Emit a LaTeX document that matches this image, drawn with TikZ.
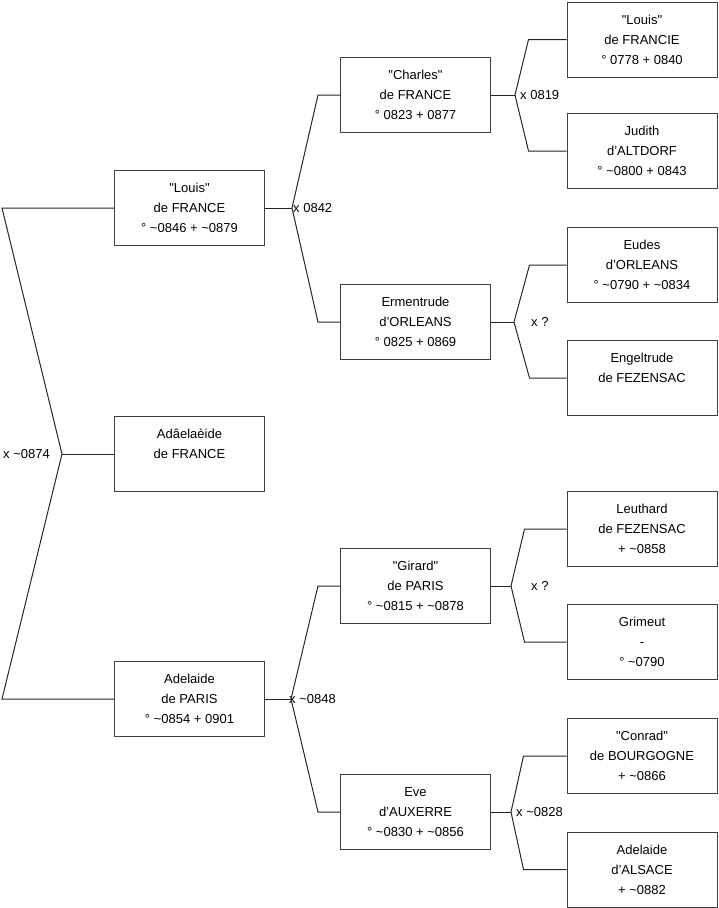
\documentclass[tikz,border=0pt]{standalone}
\usepackage{fontspec}
\setmainfont{Liberation Sans}
\usetikzlibrary{positioning}
\newcommand{\abt}{\textasciitilde}
\newcommand{\qq}[1]{\textquotedbl#1\textquotedbl}

\begin{document}
\begin{tikzpicture}[x=1pt,y=-1pt,
person/.style={draw=black!75,line width=1pt,minimum width=150pt,
minimum height=75pt,align=center,inner sep=0pt,
font=\fontsize{13}{20}\selectfont},
wed/.style={font=\fontsize{13}{15}\selectfont,inner sep=0pt,anchor=west},
link/.style={line width=1pt,black!85}]
\useasboundingbox (0,0) rectangle (719,908);
% generation 1
\node[person] (louis) at (189.5,208) {\qq{Louis}\\de FRANCE\\° \abt0846 + \abt0879};
\node[person] (adaela) at (189.5,454) {Adâelaèide\\de FRANCE\\\mbox{}};
\node[person] (adparis) at (189.5,699) {Adelaide\\de PARIS\\° \abt0854 + 0901};
% generation 2
\node[person] (charles) at (415.5,95) {\qq{Charles}\\de FRANCE\\° 0823 + 0877};
\node[person] (ermen) at (415.5,322) {Ermentrude\\d'ORLEANS\\° 0825 + 0869};
\node[person] (girard) at (415.5,586) {\qq{Girard}\\de PARIS\\° \abt0815 + \abt0878};
\node[person] (eve) at (415.5,812) {Eve\\d'AUXERRE\\° \abt0830 + \abt0856};
% generation 3
\node[person] (louisf) at (642,39.5) {\qq{Louis}\\de FRANCIE\\° 0778 + 0840};
\node[person] (judith) at (642,151) {Judith\\d'ALTDORF\\° \abt0800 + 0843};
\node[person] (eudes) at (642,265) {Eudes\\d'ORLEANS\\° \abt0790 + \abt0834};
\node[person] (engel) at (642,378) {Engeltrude\\de FEZENSAC\\\mbox{}};
\node[person] (leuth) at (642,529) {Leuthard\\de FEZENSAC\\+ \abt0858};
\node[person] (grim) at (642,642) {Grimeut\\-\\° \abt0790};
\node[person] (conrad) at (642,756) {\qq{Conrad}\\de BOURGOGNE\\+ \abt0866};
\node[person] (adals) at (642,869.5) {Adelaide\\d'ALSACE\\+ \abt0882};
% marriage points
\coordinate (w0) at (62,454);
\coordinate (w1) at (292,208);
\coordinate (w2) at (291,699);
\coordinate (w3) at (515,95);
\coordinate (w4) at (514,322);
\coordinate (w5) at (511,586);
\coordinate (w6) at (511,812);
\node[wed,xshift=-59pt] (x0) at (w0) {x \abt0874};
\node[wed,xshift=1pt] (x1) at (w1) {x 0842};
\node[wed,xshift=-2pt] (x2) at (w2) {x \abt0848};
\node[wed,xshift=5pt] (x3) at (w3) {x 0819};
\node[wed,xshift=17pt] (x4) at (w4) {x ?};
\node[wed,xshift=20pt] (x5) at (w5) {x ?};
\node[wed,xshift=5pt] (x6) at (w6) {x \abt0828};
% lines
\draw[link] (adaela) -- (w0);
\draw[link] (w0) -- ([xshift=-112pt]louis.west) -- (louis);
\draw[link] (w0) -- ([xshift=-112pt]adparis.west) -- (adparis);
\draw[link] (louis) -- (w1);
\draw[link] (w1) -- ([xshift=-22pt]charles.west) -- (charles);
\draw[link] (w1) -- ([xshift=-22pt]ermen.west) -- (ermen);
\draw[link] (adparis) -- (w2);
\draw[link] (w2) -- ([xshift=-22pt]girard.west) -- (girard);
\draw[link] (w2) -- ([xshift=-22pt]eve.west) -- (eve);
\draw[link] (charles) -- (w3);
\draw[link] (w3) -- ([xshift=-38pt]louisf.west) -- (louisf);
\draw[link] (w3) -- ([xshift=-38pt]judith.west) -- (judith);
\draw[link] (ermen) -- (w4);
\draw[link] (w4) -- ([xshift=-37pt]eudes.west) -- (eudes);
\draw[link] (w4) -- ([xshift=-37pt]engel.west) -- (engel);
\draw[link] (girard) -- (w5);
\draw[link] (w5) -- ([xshift=-42pt]leuth.west) -- (leuth);
\draw[link] (w5) -- ([xshift=-42pt]grim.west) -- (grim);
\draw[link] (eve) -- (w6);
\draw[link] (w6) -- ([xshift=-43pt]conrad.west) -- (conrad);
\draw[link] (w6) -- ([xshift=-43pt]adals.west) -- (adals);
\end{tikzpicture}
\end{document}
